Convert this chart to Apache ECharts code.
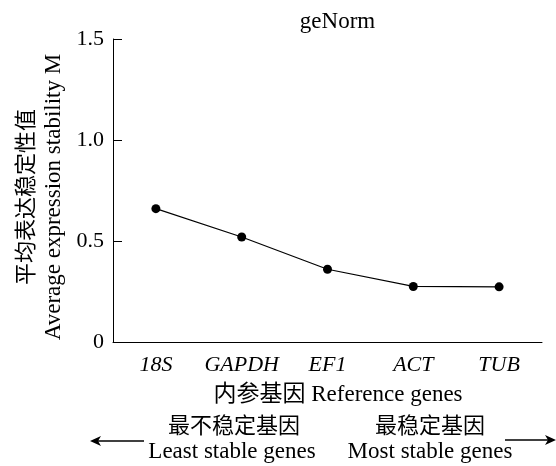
<!DOCTYPE html>
<html>
<head>
<meta charset="utf-8">
<style>
html,body{margin:0;padding:0;background:#fff;}
#chart{width:556px;height:466px;}
</style>
<script src="https://cdn.jsdelivr.net/npm/echarts@6/dist/echarts.min.js"></script>
</head>
<body>
<div id="chart"></div>
<script>
var categories = ['18S', 'GAPDH', 'EF1', 'ACT', 'TUB'];
var mValues = [0.66, 0.52, 0.36, 0.275, 0.273];
var yTicks = [0, 0.5, 1.0, 1.5];
var titleText = 'geNorm';
var yTitleCn = '平均表达稳定性值';
var yTitleEn = 'Average expression stability M';
var xTitle = '内参基因 Reference genes';
var leastCn = '最不稳定基因', leastEn = 'Least stable genes';
var mostCn = '最稳定基因', mostEn = 'Most stable genes';

var SERIF = '"Liberation Serif","Times New Roman","Noto Sans CJK SC",serif';
var chart = echarts.init(document.getElementById('chart'), null, {renderer: 'canvas'});

function txt(x, y, s, size, rot) {
  return {
    type: 'text', x: x, y: y, rotation: rot || 0,
    style: {text: s, fill: '#000', font: size + 'px ' + SERIF, align: 'center', verticalAlign: 'middle'}
  };
}

var option = {
  backgroundColor: '#fff',
  animation: false,
  grid: {left: 113, right: 14, top: 39, bottom: 124, containLabel: false},
  xAxis: {
    type: 'category',
    data: categories,
    boundaryGap: true,
    axisLine: {lineStyle: {color: '#000', width: 1}},
    axisTick: {inside: true, alignWithLabel: true, length: 9, interval: 0, lineStyle: {color: '#000'}},
    axisLabel: {color: '#000', fontSize: 22, fontStyle: 'italic', fontFamily: SERIF, margin: 12, interval: 0, hideOverlap: false}
  },
  yAxis: {
    type: 'value',
    min: yTicks[0], max: yTicks[yTicks.length - 1], interval: 0.5,
    axisLine: {show: true, lineStyle: {color: '#000', width: 1}},
    axisTick: {show: true, inside: true, length: 9, lineStyle: {color: '#000'}},
    splitLine: {show: false},
    axisLabel: {
      color: '#000', fontSize: 22, fontFamily: SERIF, margin: 9,
      formatter: function (v) { return v === 0 ? '0' : v.toFixed(1); }
    }
  },
  series: [{
    type: 'line',
    data: mValues,
    symbol: 'circle',
    symbolSize: 9,
    itemStyle: {color: '#000'},
    lineStyle: {color: '#000', width: 1.2}
  }],
  graphic: [
    txt(337.5, 22, titleText, 23),
    txt(27, 197, yTitleCn, 22, Math.PI / 2),
    txt(54, 197, yTitleEn, 23, Math.PI / 2),
    txt(338, 395, xTitle, 23),
    txt(234, 427, leastCn, 22),
    txt(232, 452, leastEn, 23),
    txt(430, 427, mostCn, 22),
    txt(430, 452, mostEn, 23),
    {type: 'line', shape: {x1: 96, y1: 441, x2: 144, y2: 441}, style: {stroke: '#000', lineWidth: 1.5}},
    {type: 'polygon', shape: {points: [[90, 441], [101, 436], [98, 441], [101, 446]]}, style: {fill: '#000'}},
    {type: 'line', shape: {x1: 505, y1: 440, x2: 550, y2: 440}, style: {stroke: '#000', lineWidth: 1.5}},
    {type: 'polygon', shape: {points: [[556, 440], [545, 435], [548, 440], [545, 445]]}, style: {fill: '#000'}}
  ]
};
chart.setOption(option);
</script>
</body>
</html>
